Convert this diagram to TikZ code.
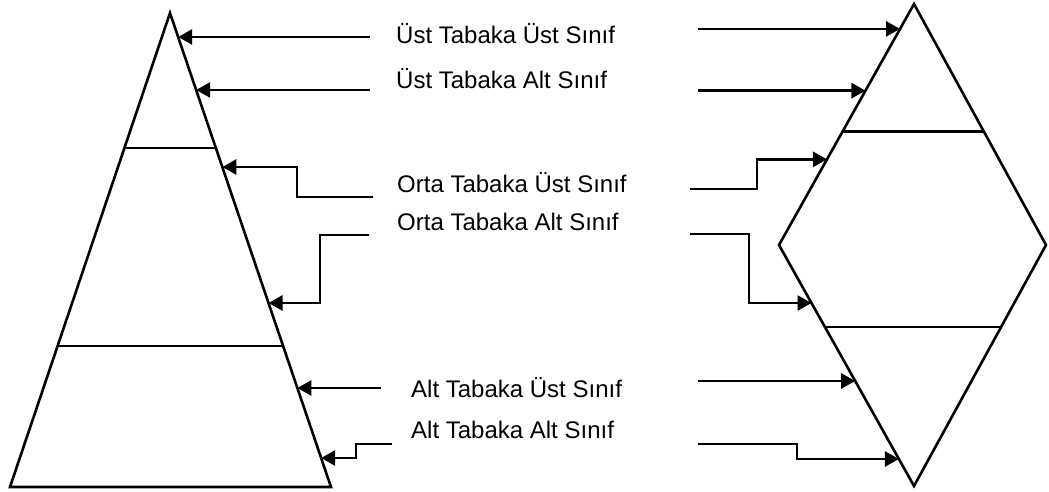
\documentclass[tikz,border=0pt]{standalone}
\usepackage{fontspec}
\setmainfont{Liberation Sans}
\usetikzlibrary{arrows.meta,calc}

\begin{document}
\begin{tikzpicture}[x=1pt,y=-1pt]
  \tikzstyle{outline}=[line width=2.6pt, line join=miter]
  \tikzstyle{link}=[line width=2.6pt, -{Triangle[length=14pt,width=15pt]}]
  \tikzstyle{tag}=[anchor=base west, inner sep=0pt, font=\fontsize{24}{28}\selectfont]

  \useasboundingbox (0,0) rectangle (1049,491);

  % Vértices de la pirámide
  \coordinate (A) at (170,13);
  \coordinate (BL) at (10,487);
  \coordinate (BR) at (331,487);

  % Vértices del rombo
  \coordinate (T) at (914,4);
  \coordinate (L) at (779,245);
  \coordinate (R) at (1046,245);
  \coordinate (B) at (914,486);

  % Pirámide y sus capas
  \draw[outline] (A) -- (BR) -- (BL) -- cycle;
  \draw[outline] ($(A)!0.2848!(BL)$) -- ($(A)!0.2848!(BR)$);
  \draw[outline] ($(A)!0.7025!(BL)$) -- ($(A)!0.7025!(BR)$);

  % Rombo y sus capas
  \draw[outline] (T) -- (R) -- (B) -- (L) -- cycle;
  \draw[outline] ($(T)!0.529!(L)$) -- ($(T)!0.529!(R)$);
  \draw[outline] ($(B)!0.66!(L)$) -- ($(B)!0.66!(R)$);

  % Textos
  \node[tag] (t1) at (396,43) {Üst Tabaka Üst Sınıf};
  \node[tag] (t2) at (396,88) {Üst Tabaka Alt Sınıf};
  \node[tag] (t3) at (397,192) {Orta Tabaka Üst Sınıf};
  \node[tag] (t4) at (397,230) {Orta Tabaka Alt Sınıf};
  \node[tag] (t5) at (411,397) {Alt Tabaka Üst Sınıf};
  \node[tag] (t6) at (411,438) {Alt Tabaka Alt Sınıf};

  % Puntas sobre la pirámide
  \coordinate (p1) at ($(A)!0.0506!(BR)$);
  \coordinate (p2) at ($(A)!0.1624!(BR)$);
  \coordinate (p3) at ($(A)!0.3249!(BR)$);
  \coordinate (p4) at ($(A)!0.6118!(BR)$);
  \coordinate (p5) at ($(A)!0.7911!(BR)$);
  \coordinate (p6) at ($(A)!0.9388!(BR)$);

  % Puntas sobre el rombo
  \coordinate (q1) at ($(T)!0.1033!(L)$);
  \coordinate (q2) at ($(T)!0.3595!(L)$);
  \coordinate (q3) at ($(T)!0.6446!(L)$);
  \coordinate (q4) at ($(L)!0.2407!(B)$);
  \coordinate (q5) at ($(L)!0.5643!(B)$);
  \coordinate (q6) at ($(L)!0.888!(B)$);

  % Inicios de las flechas
  \coordinate (s1) at (370,0);
  \coordinate (s2) at (370,0);
  \coordinate (s3) at (373,197);
  \coordinate (s4) at (369,235);
  \coordinate (s5) at (381,0);
  \coordinate (s6) at (392,444);
  \coordinate (u1) at (698,0);
  \coordinate (u2) at (698,0);
  \coordinate (u3) at (690,189);
  \coordinate (u4) at (690,234);
  \coordinate (u5) at (698,0);
  \coordinate (u6) at (698,444);

  % Flechas hacia la pirámide
  \draw[link] (s1 |- p1) -- (p1);
  \draw[link] (s2 |- p2) -- (p2);
  \draw[link] (s3) -- ++(-76,0) |- (p3);
  \draw[link] (s4) -- ++(-49,0) |- (p4);
  \draw[link] (s5 |- p5) -- (p5);
  \draw[link] (s6) -- ++(-36,0) |- (p6);

  % Flechas hacia el rombo
  \draw[link] (u1 |- q1) -- (q1);
  \draw[link] (u2 |- q2) -- (q2);
  \draw[link] (u3) -- ++(67,0) |- (q3);
  \draw[link] (u4) -- ++(59,0) |- (q4);
  \draw[link] (u5 |- q5) -- (q5);
  \draw[link] (u6) -- ++(99,0) |- (q6);
\end{tikzpicture}
\end{document}
